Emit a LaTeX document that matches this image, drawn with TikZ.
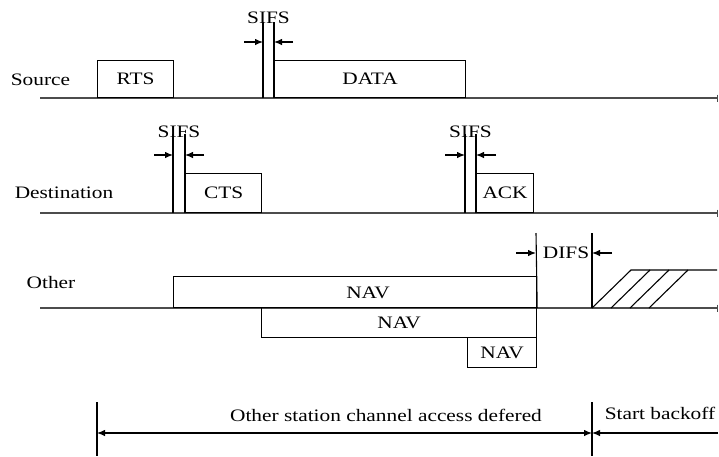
\documentclass[tikz,border=0pt]{standalone}
\usepackage{fontspec}
\setmainfont{Liberation Serif}[FakeStretch=1.22]
\usetikzlibrary{arrows.meta, positioning}
\tikzstyle{frame}=[rectangle, draw=black, line width=1.2pt, inner sep=0pt, anchor=south west]
\tikzstyle{axis}=[draw=black!70, line width=1.2pt, -{Bar[width=7pt]}]
\tikzstyle{edge}=[draw=black, line width=1.1pt]
\tikzstyle{span}=[draw=black, line width=1.1pt, ->]

\begin{document}
\begin{tikzpicture}[x=1pt, y=-1pt, >={Latex[length=8pt,width=6.5pt]}, font=\fontsize{17.5}{20}\selectfont]
          \useasboundingbox (0,0) rectangle (719,456);

          % stations
          \node (src) at (40.5,80) {Source};
          \node (dst) at (64,193) {Destination};
          \node (oth) at (51,283) {Other};

          \coordinate (s0) at (40,98);  \coordinate (s1) at (718,98);
          \coordinate (d0) at (40,213); \coordinate (d1) at (718,213);
          \coordinate (o0) at (40,308); \coordinate (o1) at (718,308);
          \draw[axis] (s0) -- (s1);
          \draw[axis] (d0) -- (d1);
          \draw[axis] (o0) -- (o1);

          % frames
          \node[frame, minimum width=76pt, minimum height=37pt] (rts) at (97,98) {RTS};
          \node[frame, minimum width=191pt, minimum height=37pt] (data) at (274,98) {DATA};
          \node[frame, minimum width=76pt, minimum height=39pt] (cts) at (185,213) {CTS};
          \node[frame, minimum width=57pt, minimum height=39pt] (ack) at (476,213) {ACK};
          \node[frame, minimum width=363pt, minimum height=31pt] (nav0) at (173,308) {};
          \node[frame, minimum width=275pt, minimum height=30pt] (nav1) at (261,338) {NAV};
          \node[frame, minimum width=69pt, minimum height=30pt] (nav2) at (467,368) {NAV};
          \node (navl) at (368,293) {NAV};

          % SIFS gaps
          \coordinate (a0) at (263,22);  \coordinate (a1) at (263,98);
          \coordinate (a2) at (274,22);
          \draw[edge] (a0) -- (a1);
          \draw[edge] (a2) -- (data.south west);
          \node[anchor=south, inner sep=0pt] (sifs0) at (268.5,24) {SIFS};
          \coordinate (a3) at (244,42); \coordinate (a4) at (263,42);
          \coordinate (a5) at (293,42); \coordinate (a6) at (274,42);
          \draw[span] (a3) -- (a4);
          \draw[span] (a5) -- (a6);

          \coordinate (b0) at (173,134); \coordinate (b1) at (173,213);
          \coordinate (b2) at (185,134);
          \draw[edge] (b0) -- (b1);
          \draw[edge] (b2) -- (cts.south west);
          \node[anchor=south, inner sep=0pt] (sifs1) at (179,138) {SIFS};
          \coordinate (b3) at (154,155); \coordinate (b4) at (173,155);
          \coordinate (b5) at (204,155); \coordinate (b6) at (185,155);
          \draw[span] (b3) -- (b4);
          \draw[span] (b5) -- (b6);

          \coordinate (c0) at (465,134); \coordinate (c1) at (465,213);
          \coordinate (c2) at (476,134);
          \draw[edge] (c0) -- (c1);
          \draw[edge] (c2) -- (ack.south west);
          \node[anchor=south, inner sep=0pt] (sifs2) at (470.5,138) {SIFS};
          \coordinate (c3) at (445,155); \coordinate (c4) at (465,155);
          \coordinate (c5) at (496,155); \coordinate (c6) at (476,155);
          \draw[span] (c3) -- (c4);
          \draw[span] (c5) -- (c6);

          % DIFS and backoff
          \coordinate (e0) at (536,233); \coordinate (e1) at (592,233);
          \coordinate (e2) at (592,308);
          \draw[edge] (e0) -- (nav0.south east);
          \draw[edge] (e1) -- (e2);
          \node (difs) at (566,253) {DIFS};
          \coordinate (e3) at (516,253); \coordinate (e4) at (536,253);
          \coordinate (e5) at (612,253); \coordinate (e6) at (592,253);
          \draw[span] (e3) -- (e4);
          \draw[span] (e5) -- (e6);

          \coordinate (f0) at (631,270); \coordinate (f1) at (717,270);
          \draw[edge] (e2) -- (f0) -- (f1);
          \foreach \i in {1,2,3}
                \draw[edge] (592+19*\i,308) -- (631+19*\i,270);

          % deferral
          \coordinate (g0) at (97,402);  \coordinate (g1) at (97,456);
          \coordinate (g2) at (592,402); \coordinate (g3) at (592,456);
          \coordinate (g4) at (97,433);  \coordinate (g5) at (592,433);
          \coordinate (g6) at (718,433);
          \draw[edge] (g0) -- (g1);
          \draw[edge] (g2) -- (g3);
          \draw[span, <->] (g4) -- (g5);
          \draw[span] (g6) -- (g5);
          \node (defer) at (386,415) {Other station channel access defered};
          \node (boff) at (660,413) {Start backoff};
        \end{tikzpicture}
\end{document}
